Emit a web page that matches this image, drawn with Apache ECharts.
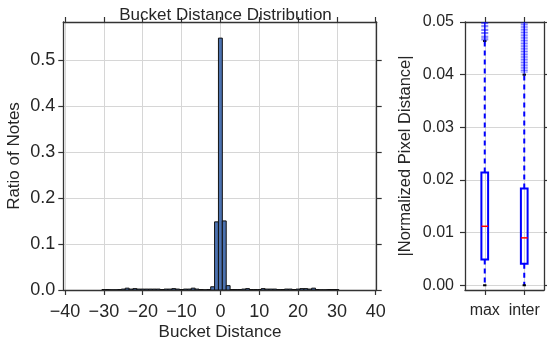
<!DOCTYPE html>
<html><head><meta charset="utf-8">
<script src="https://cdn.jsdelivr.net/npm/echarts@6/dist/echarts.min.js"></script>
<style>html,body{margin:0;padding:0;background:#fff}#c{width:547px;height:342px}</style>
</head><body><div id="c"></div>
<script>
// ---------- Histogram data ----------
const bucketDistances = [-30,-29,-28,-27,-26,-25,-24,-23,-22,-21,-20,-19,-18,-17,-16,-15,-14,-13,-12,-11,-10,-9,-8,-7,-6,-5,-4,-3,-2,-1,0,1,2,3,4,5,6,7,8,9,10,11,12,13,14,15,16,17,18,19,20,21,22,23,24,25,26,27,28,29,30];
const ratioOfNotes = [0.001,0.001,0.0005,0.0005,0.001,0.002,0.004,0.002,0.003,0.002,0.002,0.002,0.002,0.002,0.002,0.001,0.002,0.002,0.003,0.002,0.001,0.002,0.002,0.004,0.002,0.001,0.0005,0.001,0.007,0.148,0.547,0.150,0.0095,0.001,0.001,0.001,0.002,0.003,0.001,0.001,0.001,0.003,0.002,0.002,0.002,0.001,0.001,0.002,0.002,0.001,0.002,0.003,0.003,0.002,0.004,0.001,0.0005,0.0005,0.001,0.001,0.001];
const histXTicks = [-40,-30,-20,-10,0,10,20,30,40];
const histYTicks = [0,0.1,0.2,0.3,0.4,0.5];

// ---------- Box plot data ----------
const boxCategories = ['max','inter'];
const whiskerLow = [0.0, 0.0];
const boxQ1 = [0.0049, 0.0041];
const boxMedian = [0.0112, 0.0090];
const boxQ3 = [0.0214, 0.0184];
const whiskerHigh = [0.0464, 0.0400];
const maxFliers = [0.0466,0.0468,0.0471,0.0473,0.0478,0.0480,0.0484,0.0486,0.0491,0.0493,0.0497,0.0499];
const interFliers = [0.0405,0.0408,0.0411,0.0414,0.0417,0.0420,0.0423,0.0426,0.0429,0.0432,0.0435,0.0438,0.0441,0.0444,0.0447,0.0450,0.0453,0.0456,0.0459,0.0462,0.0465,0.0468,0.0471,0.0474,0.0477,0.0480,0.0483,0.0486,0.0489,0.0492,0.0495,0.0498];
const boxYTicks = [0,0.01,0.02,0.03,0.04,0.05];

const histData = bucketDistances.map((d,i)=>[d, ratioOfNotes[i]]);
const boxData = boxCategories.map((c,i)=>[i, whiskerLow[i], boxQ1[i], boxMedian[i], boxQ3[i], whiskerHigh[i]]);
const flierData = [].concat(maxFliers.map(v=>[0,v]), interFliers.map(v=>[1,v]));

const FONT = 'Liberation Sans, Arial, sans-serif';
const TXT = '#262626';
const AX = '#333333';
const GRIDC = '#d6d6d6';
const minus = v => (v < 0 ? '\u2212' + Math.abs(v) : String(v));

function frameAxis(extra){
  return Object.assign({
    axisLine:{show:true, onZero:false, lineStyle:{color:AX, width:1.3}},
    axisTick:{show:true, length:5, lineStyle:{color:AX, width:1.2}},
    axisLabel:{show:false},
    splitLine:{show:false},
    nameMoveOverlap:false
  }, extra);
}

const chart = echarts.init(document.getElementById('c'), null, {renderer:'canvas'});
chart.setOption({
  animation:false,
  backgroundColor:'#ffffff',
  textStyle:{fontFamily:FONT, color:TXT},
  title:{text:'Bucket Distance Distribution', left:220.5, top:2, textAlign:'center',
    textStyle:{fontFamily:FONT, fontSize:17, fontWeight:'normal', color:TXT}},
  grid:[
    {left:63.3, right:170.3, top:22, bottom:52, containLabel:false, outerBoundsMode:'none'},
    {left:465, right:3, top:22, bottom:52, containLabel:false, outerBoundsMode:'none'}
  ],
  xAxis:[
    frameAxis({gridIndex:0, type:'value', min:-40.45, max:40.25, position:'bottom',
      axisTick:{show:true, length:5, customValues:histXTicks, lineStyle:{color:AX, width:1.2}},
      axisLabel:{show:true, customValues:histXTicks, formatter:minus, fontSize:18, color:TXT, fontFamily:FONT, margin:13},
      splitLine:{show:true, lineStyle:{color:GRIDC, width:1}},
      name:'Bucket Distance', nameLocation:'middle', nameGap:34,
      nameTextStyle:{fontSize:17, color:TXT, fontFamily:FONT}}),
    frameAxis({gridIndex:0, type:'value', min:-40.45, max:40.25, position:'top',
      axisTick:{show:true, length:5, customValues:histXTicks, lineStyle:{color:AX, width:1.2}}}),
    frameAxis({gridIndex:1, type:'value', min:-0.5, max:1.5, position:'bottom',
      axisTick:{show:true, length:5, customValues:[0,1], lineStyle:{color:AX, width:1.2}},
      axisLabel:{show:true, customValues:[0,1], formatter:v=>boxCategories[Math.round(v)], fontSize:16, color:TXT, fontFamily:FONT, margin:13},
      splitLine:{show:true, lineStyle:{color:GRIDC, width:1}}}),
    frameAxis({gridIndex:1, type:'value', min:-0.5, max:1.5, position:'top',
      axisTick:{show:true, length:5, customValues:[0,1], lineStyle:{color:AX, width:1.2}}})
  ],
  yAxis:[
    frameAxis({gridIndex:0, type:'value', min:0, max:0.582, position:'left',
      axisTick:{show:true, length:5, customValues:histYTicks, lineStyle:{color:AX, width:1.2}},
      axisLabel:{show:true, customValues:histYTicks, formatter:v=>v.toFixed(1), fontSize:18, color:TXT, fontFamily:FONT, margin:8},
      splitLine:{show:true, lineStyle:{color:GRIDC, width:1}},
      name:'Ratio of Notes', nameLocation:'middle', nameGap:40,
      nameTextStyle:{fontSize:17, color:TXT, fontFamily:FONT}}),
    frameAxis({gridIndex:0, type:'value', min:0, max:0.582, position:'right',
      axisTick:{show:true, length:5, customValues:histYTicks, lineStyle:{color:AX, width:1.2}}}),
    frameAxis({gridIndex:1, type:'value', min:-0.0009, max:0.05, position:'left',
      axisTick:{show:true, length:5, customValues:boxYTicks, lineStyle:{color:AX, width:1.2}},
      axisLabel:{show:true, customValues:boxYTicks, formatter:v=>v.toFixed(2), fontSize:16, color:TXT, fontFamily:FONT, margin:11},
      splitLine:{show:true, lineStyle:{color:GRIDC, width:1}},
      name:'|Normalized Pixel Distance|', nameLocation:'middle', nameGap:51,
      nameTextStyle:{fontSize:16.5, color:TXT, fontFamily:FONT}}),
    frameAxis({gridIndex:1, type:'value', min:-0.0009, max:0.05, position:'right',
      axisTick:{show:true, length:5, customValues:boxYTicks, lineStyle:{color:AX, width:1.2}}})
  ],
  series:[
    {
      type:'custom', xAxisIndex:0, yAxisIndex:0, data:histData, clip:true,
      encode:{x:0, y:1},
      renderItem:function(params, api){
        const x = api.value(0), y = api.value(1);
        const p0 = api.coord([x-0.5, y]);
        const p1 = api.coord([x+0.5, 0]);
        return {type:'rect', shape:{x:p0[0], y:p0[1], width:p1[0]-p0[0], height:p1[1]-p0[1]},
          style:{fill:'#4c72b0', stroke:'#111', lineWidth:1}};
      }
    },
    {
      type:'custom', xAxisIndex:2, yAxisIndex:2, data:boxData, clip:true,
      encode:{x:0, y:[1,2,3,4,5]},
      renderItem:function(params, api){
        const i = api.value(0);
        const lo = api.coord([i, api.value(1)]);
        const q1 = api.coord([i, api.value(2)]);
        const md = api.coord([i, api.value(3)]);
        const q3 = api.coord([i, api.value(4)]);
        const hi = api.coord([i, api.value(5)]);
        const hw = api.size([0.17, 0])[0] / 2;
        const cx = lo[0];
        const capw = hw/2;
        return {type:'group', children:[
          {type:'line', shape:{x1:cx, y1:q3[1], x2:cx, y2:hi[1]}, style:{stroke:'#0000ff', lineWidth:2, lineDash:[5,4]}},
          {type:'line', shape:{x1:cx, y1:q1[1], x2:cx, y2:lo[1]}, style:{stroke:'#0000ff', lineWidth:2, lineDash:[5,4]}},
          {type:'line', shape:{x1:cx-capw, y1:lo[1], x2:cx+capw, y2:lo[1]}, style:{stroke:'#000', lineWidth:2}},
          {type:'line', shape:{x1:cx-capw, y1:hi[1], x2:cx+capw, y2:hi[1]}, style:{stroke:'#000', lineWidth:2}},
          {type:'rect', shape:{x:cx-hw, y:q3[1], width:2*hw, height:q1[1]-q3[1]}, style:{fill:'none', stroke:'#0000ff', lineWidth:2}},
          {type:'line', shape:{x1:cx-hw, y1:md[1], x2:cx+hw, y2:md[1]}, style:{stroke:'#ff0000', lineWidth:1.5}}
        ]};
      }
    },
    {
      type:'custom', xAxisIndex:2, yAxisIndex:2, data:flierData, clip:true,
      encode:{x:0, y:1},
      renderItem:function(params, api){
        const p = api.coord([api.value(0), api.value(1)]);
        const s = 3.5;
        return {type:'group', children:[
          {type:'line', shape:{x1:p[0]-s, y1:p[1], x2:p[0]+s, y2:p[1]}, style:{stroke:'#0000ff', lineWidth:1, opacity:0.55}},
          {type:'line', shape:{x1:p[0], y1:p[1]-s, x2:p[0], y2:p[1]+s}, style:{stroke:'#0000ff', lineWidth:1, opacity:0.55}}
        ]};
      }
    }
  ]
});
</script></body></html>
